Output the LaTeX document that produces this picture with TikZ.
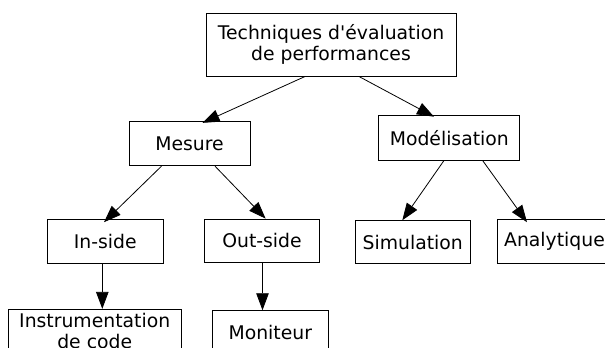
\documentclass[tikz,border=0pt]{standalone}
\usepackage{fontspec}
\setmainfont{DejaVu Sans}
\usetikzlibrary{arrows.meta}

\begin{document}
\begin{tikzpicture}[x=1pt, y=-1pt,
    boite/.style={draw, line width=0.9pt, inner sep=0pt, align=center, font=\fontsize{18.8}{21}\selectfont},
    fleche/.style={-{Triangle[length=17pt, width=12.5pt]}, line width=0.8pt}]
    \useasboundingbox (0,0) rectangle (605,348);

    % Root
    \node[boite, minimum width=250pt, minimum height=62.7pt] (techniques) at (331,44.7) {Techniques d\textquotesingle évaluation\\ de performances};

    % Second level
    \node[boite, minimum width=121pt, minimum height=44.4pt] (mesure) at (189.5,143.5) {Mesure};
    \node[boite, minimum width=141pt, minimum height=44.3pt] (modelisation) at (449.3,137.9) {Modélisation};

    % Third level
    \node[boite, minimum width=115.5pt, minimum height=43.3pt] (inside) at (105.3,241.3) {In-side};
    \node[boite, minimum width=115.7pt, minimum height=43.3pt] (outside) at (262,240.7) {Out-side};
    \node[boite, minimum width=115.6pt, minimum height=43pt] (simulation) at (412.8,242.2) {Simulation};
    \node[boite, minimum width=115pt, minimum height=43.3pt] (analytique) at (554.5,241.3) {Analytique};

    % Fourth level
    \node[boite, minimum width=172.7pt, minimum height=42.6pt] (instrumentation) at (94.7,330.6) {Instrumentation\\ de code};
    \node[boite, minimum width=116.7pt, minimum height=43pt] (moniteur) at (270.3,332.2) {Moniteur};

    % Arrows
    \draw[fleche] ([xshift=-26pt]techniques.south) -- ([xshift=13pt, yshift=-2pt]mesure.north);
    \draw[fleche] ([xshift=28pt]techniques.south) -- ([xshift=-15.3pt, yshift=-1.4pt]modelisation.north);
    \draw[fleche] ([xshift=-28pt]mesure.south) -- ([xshift=-1.3pt, yshift=-3pt]inside.north);
    \draw[fleche] ([xshift=25.5pt]mesure.south) -- ([xshift=3.6pt]outside.north);
    \draw[fleche] ([xshift=-3pt]inside.south) -- ([xshift=-3pt]inside.south |- instrumentation.north);
    \draw[fleche] ([xshift=0.5pt]outside.south) -- ([xshift=0.5pt]outside.south |- moniteur.north);
    \draw[fleche] ([xshift=-5.3pt]modelisation.south) -- ([xshift=-10.5pt]simulation.north);
    \draw[fleche] ([xshift=33.3pt]modelisation.south) -- ([xshift=-27.5pt, yshift=-3pt]analytique.north);

\end{tikzpicture}
\end{document}
